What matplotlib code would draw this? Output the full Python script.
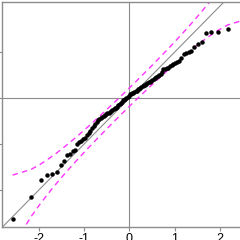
import numpy as np
import matplotlib.pyplot as plt
from statistics import NormalDist

plt.rcParams['axes.unicode_minus'] = False
plt.rcParams['font.family'] = ['Liberation Sans', 'DejaVu Sans']

# sorted sample values (n = 100)
sample = [-2.63, -2.15, -1.78, -1.67, -1.65, -1.61, -1.46, -1.37, -1.24, -1.22,
          -1.15, -1.13, -1.00, -0.96, -0.94, -0.89, -0.87, -0.80, -0.76, -0.72,
          -0.65, -0.61, -0.57, -0.52,
          -0.48, -0.46, -0.44, -0.41, -0.39, -0.37, -0.35, -0.33, -0.32, -0.30,
          -0.28, -0.26, -0.24, -0.22, -0.21, -0.19, -0.15, -0.13, -0.10, -0.08,
          -0.05, -0.03, -0.01, 0.01, 0.03, 0.05,
          0.08, 0.09, 0.11, 0.12, 0.13, 0.15, 0.16, 0.19, 0.21, 0.23,
          0.25, 0.26, 0.28, 0.29, 0.30, 0.33, 0.35, 0.36, 0.38, 0.40,
          0.42, 0.44, 0.46, 0.49, 0.51, 0.53, 0.57, 0.63, 0.64, 0.65,
          0.66, 0.69, 0.72, 0.74, 0.76, 0.78, 0.80, 0.87, 0.96, 0.99,
          1.00, 1.02, 1.11, 1.17, 1.22, 1.41, 1.44, 1.44, 1.50, 1.75]
x_ticks = [-2, -1, 0, 1, 2]
y_ticks = [-2, -1, 0, 1]

# band: centre line a + b*z, half width k*se
band_a = 0.02
band_b = 0.96
band_k = 1.6

y = np.sort(np.array(sample))
n = len(y)
p = (np.arange(1, n + 1) - 0.5) / n
nd = NormalDist()
z = np.array([nd.inv_cdf(v) for v in p])

dens = np.array([nd.pdf(v) for v in z])
se = np.sqrt(p * (1 - p) / n) / dens
centre = band_a + band_b * z
upper = centre + band_k * se
lower = centre - band_k * se

fig = plt.figure(figsize=(2.4, 2.4), dpi=100)
ax = fig.add_axes([2 / 240, 13 / 240, 260 / 240, 225 / 240])

ax.axhline(0, color='#8c8c8c', lw=0.8, zorder=1)
ax.axvline(0, color='#8c8c8c', lw=0.8, zorder=1)
ax.axline((0, 0), slope=1, color='#8c8c8c', lw=0.8, zorder=1)
ax.plot(z, upper, color='#ff33ff', lw=1, dashes=(4, 3), zorder=2)
ax.plot(z, lower, color='#ff33ff', lw=1, dashes=(4, 3), zorder=2)
ax.plot(z, y, 'o', color='black', ms=3.2, mew=0, zorder=3)

ax.set_xlim(-2.81, 2.93)
ax.set_ylim(-2.80, 2.09)
ax.set_xticks(x_ticks)
ax.set_yticks(y_ticks)
ax.set_yticklabels([])
ax.tick_params(direction='out', length=3, width=0.8, color='#8c8c8c',
               labelsize=9, pad=1.5)
for s in ax.spines.values():
    s.set_color('#8c8c8c')
    s.set_linewidth(1)

fig.savefig('out.png', dpi=100)
